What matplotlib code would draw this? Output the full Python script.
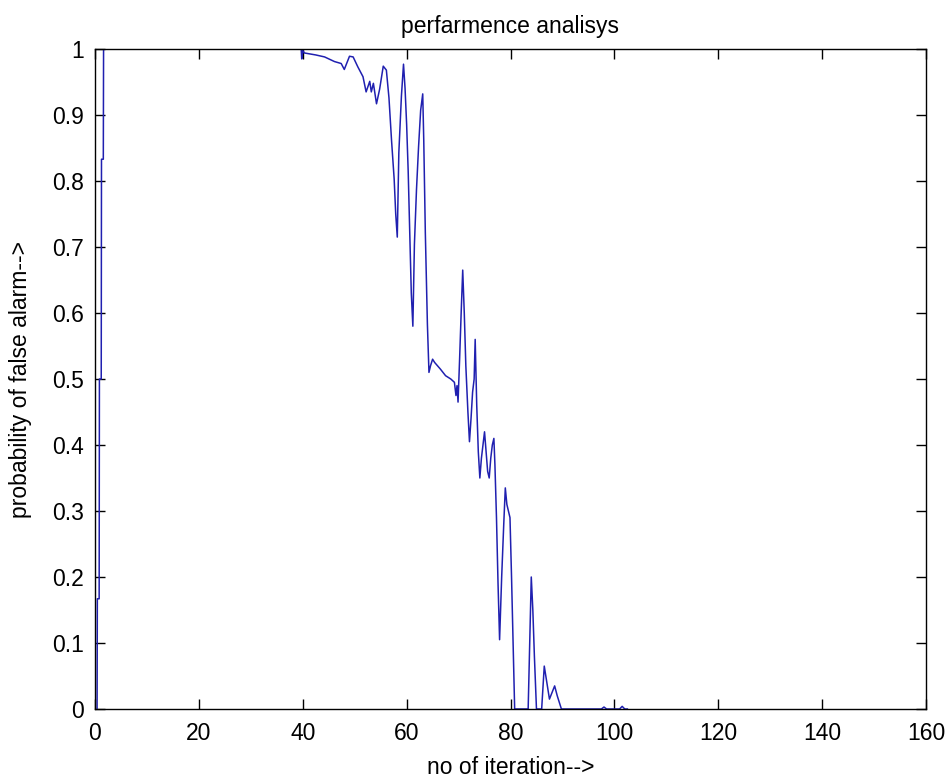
import matplotlib
matplotlib.use("Agg")
import matplotlib.pyplot as plt

# iteration index (x) and probability of false alarm (y)
iterations = [0.4, 0.45, 0.8, 0.85, 1.2, 1.25, 1.6, 1.65, 39.7, 39.8, 40.0, 40.3,
              42.5, 44.2, 46.1, 47.4, 48.0, 49.0, 49.7, 50.6, 51.6, 52.2, 52.9, 53.2,
              53.6, 54.2, 54.8, 55.5, 56.1, 56.6, 57.1, 57.6, 57.9, 58.2, 58.5, 59.0,
              59.4, 59.7, 60.0, 60.3, 60.6, 60.9, 61.2, 61.5, 61.9, 62.3, 62.7, 63.1,
              63.3, 63.6, 64.0, 64.3, 64.6, 65.0, 65.4, 66.5, 67.5, 68.5, 69.2, 69.5,
              69.7, 69.9, 70.2, 70.5, 70.8, 71.1, 71.4, 71.8, 72.1, 72.4, 72.7, 73.0,
              73.2, 73.5, 73.8, 74.1, 74.4, 74.7, 75.0, 75.3, 75.6, 75.9, 76.2, 76.5,
              76.8, 77.0, 77.3, 77.6, 77.9, 78.3, 78.7, 79.0, 79.3, 79.6, 79.9, 80.2,
              80.5, 80.8, 83.4, 83.7, 84.0, 84.3, 84.6, 85.0, 86.0, 86.5, 87.0, 87.5,
              88.0, 88.5, 89.0, 89.8, 97.5, 98.0, 98.5, 101.0, 101.5, 102.0, 102.5]
pfa = [0.0, 0.167, 0.167, 0.5, 0.5, 0.833, 0.833, 1.0, 1.0, 0.985, 0.998, 0.994,
       0.991, 0.988, 0.981, 0.978, 0.969, 0.989, 0.988, 0.973, 0.958, 0.935, 0.951, 0.935,
       0.948, 0.917, 0.939, 0.974, 0.968, 0.926, 0.861, 0.803, 0.75, 0.715, 0.843, 0.929,
       0.977, 0.94, 0.886, 0.815, 0.722, 0.63, 0.58, 0.704, 0.787, 0.852, 0.907, 0.932,
       0.861, 0.722, 0.583, 0.51, 0.52, 0.53, 0.525, 0.515, 0.505, 0.50, 0.495, 0.475,
       0.49, 0.465, 0.53, 0.60, 0.665, 0.60, 0.52, 0.45, 0.405, 0.44, 0.48, 0.50,
       0.56, 0.46, 0.39, 0.35, 0.38, 0.40, 0.42, 0.39, 0.36, 0.35, 0.38, 0.40,
       0.41, 0.37, 0.29, 0.19, 0.105, 0.2, 0.28, 0.335, 0.31, 0.30, 0.29, 0.2,
       0.1, 0.0, 0.0, 0.1, 0.2, 0.15, 0.08, 0.0, 0.0, 0.065, 0.04, 0.015,
       0.025, 0.035, 0.02, 0.0, 0.0, 0.003, 0.0, 0.0, 0.004, 0.0, 0.0]

x_ticks = [0, 20, 40, 60, 80, 100, 120, 140, 160]
y_ticks = [0, 0.1, 0.2, 0.3, 0.4, 0.5, 0.6, 0.7, 0.8, 0.9, 1]
y_tick_labels = ["0", "0.1", "0.2", "0.3", "0.4", "0.5", "0.6", "0.7", "0.8", "0.9", "1"]

plt.rcParams['font.family'] = ['Liberation Sans', 'DejaVu Sans']

W, H = 953, 778
L, R, T, B = 95, 926, 49, 709
FS = 16.5
fig = plt.figure(figsize=(W / 100, H / 100), dpi=100)
ax = fig.add_axes([L / W, (H - B) / H, (R - L) / W, (B - T) / H])
ax.plot(iterations, pfa, color='#2020b0', linewidth=1.1)

ax.set_xlim(0, 160)
ax.set_ylim(0, 1)
ax.set_xticks(x_ticks)
ax.set_xticklabels([str(t) for t in x_ticks])
ax.set_yticks(y_ticks)
ax.set_yticklabels(y_tick_labels)
ax.tick_params(direction='in', length=7, width=1, top=True, right=True,
               labelsize=FS)
ax.tick_params(axis='x', pad=9)
ax.tick_params(axis='y', pad=8)
for s in ax.spines.values():
    s.set_linewidth(1.0)

ph = B - T
pw = R - L
ax.set_title("perfarmence analisys", fontsize=FS, pad=0,
             y=1 + (T - 27) / ph, va='center')
ax.set_xlabel("no of iteration-->", fontsize=FS)
ax.xaxis.label.set_va('center')
ax.xaxis.set_label_coords(0.5, -(767 - B) / ph)
ax.set_ylabel("probability of false alarm-->", fontsize=FS)
ax.yaxis.label.set_va('center')
ax.yaxis.set_label_coords(-(L - 21) / pw, 0.5)

fig.savefig("out.png", dpi=100, facecolor='white')
